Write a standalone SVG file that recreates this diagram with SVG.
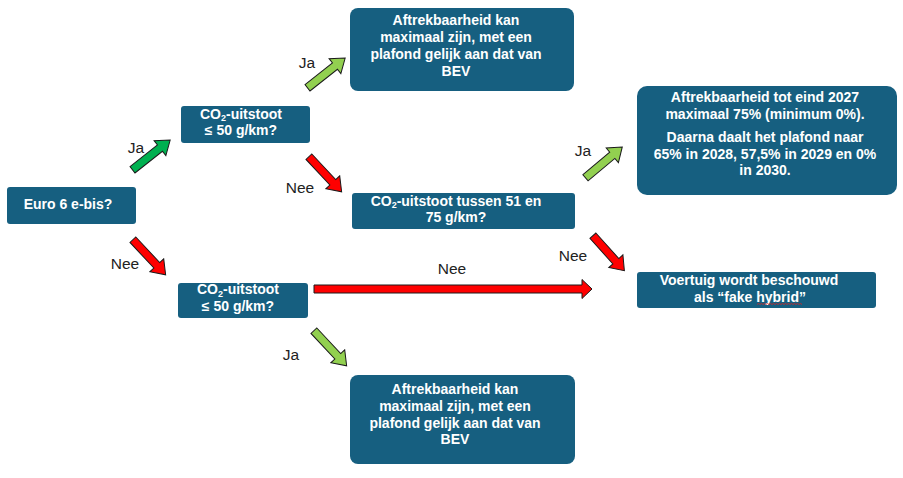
<svg xmlns="http://www.w3.org/2000/svg" width="903" height="478" viewBox="0 0 903 478">
<style>
.box{fill:#165F80;}
.t{font-family:"Liberation Sans",Arial,sans-serif;font-weight:bold;font-size:14px;fill:#ffffff;text-anchor:middle;}
.lbl{font-family:"Liberation Sans",Arial,sans-serif;font-size:15.5px;fill:#222222;text-anchor:middle;}
.dg{fill:#00B050;stroke:#1a1a1a;stroke-width:1;}
.lg{fill:#92D050;stroke:#1a1a1a;stroke-width:1;}
.rd{fill:#FF0000;stroke:#1a1a1a;stroke-width:1;}
</style>
<defs>
<path id="arr" d="M0,-4 H35 V-9.5 L48,0 L35,9.5 V4 H0 Z"/>
</defs>
<rect width="903" height="478" fill="#ffffff"/>

<g id="connectors">
<use href="#arr" class="dg" transform="translate(132.5,169.8) rotate(-38.3)"/>
<use href="#arr" class="lg" transform="translate(307.5,87.8) rotate(-38.3)"/>
<use href="#arr" class="rd" transform="translate(308.9,156.7) rotate(47)"/>
<use href="#arr" class="rd" transform="translate(132.9,239.7) rotate(47)"/>
<path class="rd" d="M0,-4 H268 V-9.5 L278,0 L268,9.5 V4 H0 Z" transform="translate(314,289)"/>
<use href="#arr" class="lg" transform="translate(313.9,330.7) rotate(47)"/>
<use href="#arr" class="lg" transform="translate(585.5,177.8) rotate(-40)"/>
<use href="#arr" class="rd" transform="translate(592.9,235.7) rotate(48) scale(0.98,1)"/>
<text class="lbl" x="136" y="152.5">Ja</text>
<text class="lbl" x="307" y="67.5">Ja</text>
<text class="lbl" x="300" y="192.5">Nee</text>
<text class="lbl" x="125" y="268.5">Nee</text>
<text class="lbl" x="452" y="273.5">Nee</text>
<text class="lbl" x="291" y="359.5">Ja</text>
<text class="lbl" x="583" y="155.5">Ja</text>
<text class="lbl" x="573" y="260.5">Nee</text>
</g>

<g id="euro">
<rect class="box" x="7" y="187" width="129" height="37" rx="3"/>
<text class="t" x="68" y="208.5">Euro 6 e-bis?</text>
</g>

<g id="co2-top">
<rect class="box" x="181" y="106" width="129" height="37" rx="3"/>
<text class="t" x="241" y="118.5">CO<tspan font-size="9" dy="2.5">2</tspan><tspan dy="-2.5">-uitstoot</tspan></text>
<text class="t" x="241" y="134.5">≤ 50 g/km?</text>
</g>

<g id="result-top">
<rect class="box" x="350" y="8" width="224" height="83" rx="8"/>
<text class="t" x="456" y="25">Aftrekbaarheid kan</text>
<text class="t" x="456" y="42">maximaal zijn, met een</text>
<text class="t" x="456" y="59">plafond gelijk aan dat van</text>
<text class="t" x="456" y="76">BEV</text>
</g>

<g id="co2-75">
<rect class="box" x="352" y="193" width="223" height="36" rx="3"/>
<text class="t" x="456" y="205.5">CO<tspan font-size="9" dy="2.5">2</tspan><tspan dy="-2.5">-uitstoot tussen 51 en</tspan></text>
<text class="t" x="456" y="222">75 g/km?</text>
</g>

<g id="result-right">
<rect class="box" x="637" y="86" width="260" height="109" rx="10"/>
<text class="t" x="765" y="102">Aftrekbaarheid tot eind 2027</text>
<text class="t" x="765" y="119">maximaal 75% (minimum 0%).</text>
<text class="t" x="765" y="142">Daarna daalt het plafond naar</text>
<text class="t" x="765" y="158.5">65% in 2028, 57,5% in 2029 en 0%</text>
<text class="t" x="765" y="175">in 2030.</text>
</g>

<g id="fake-hybrid">
<rect class="box" x="637" y="272" width="239" height="36" rx="3"/>
<text class="t" x="749" y="284.5">Voertuig wordt beschouwd</text>
<text class="t" x="750" y="302">als “fake hybrid”</text>
<path d="M757,304.5 l1.5,-1 l1.5,1 l1.5,-1 l1.5,1 l1.5,-1 l1.5,1 l1.5,-1 l1.5,1 l1.5,-1 l1.5,1 l1.5,-1 l1.5,1 l1.5,-1 l1.5,1 l1.5,-1 l1.5,1 l1.5,-1 l1.5,1 l1.5,-1 l1.5,1 l1.5,-1 l1.5,1 l1.5,-1 l1.5,1 l1.5,-1 l1.5,1 l1.5,-1 l1.5,1 l1.5,-1 l1.5,1" fill="none" stroke="#e02020" stroke-width="0.8"/>
</g>

<g id="co2-bottom">
<rect class="box" x="178" y="283" width="130" height="35" rx="3"/>
<text class="t" x="238" y="294">CO<tspan font-size="9" dy="2.5">2</tspan><tspan dy="-2.5">-uitstoot</tspan></text>
<text class="t" x="238" y="311">≤ 50 g/km?</text>
</g>

<g id="result-bottom">
<rect class="box" x="350" y="375" width="225" height="89" rx="8"/>
<text class="t" x="455" y="394">Aftrekbaarheid kan</text>
<text class="t" x="455" y="411">maximaal zijn, met een</text>
<text class="t" x="455" y="427.5">plafond gelijk aan dat van</text>
<text class="t" x="455" y="444">BEV</text>
</g>
</svg>
